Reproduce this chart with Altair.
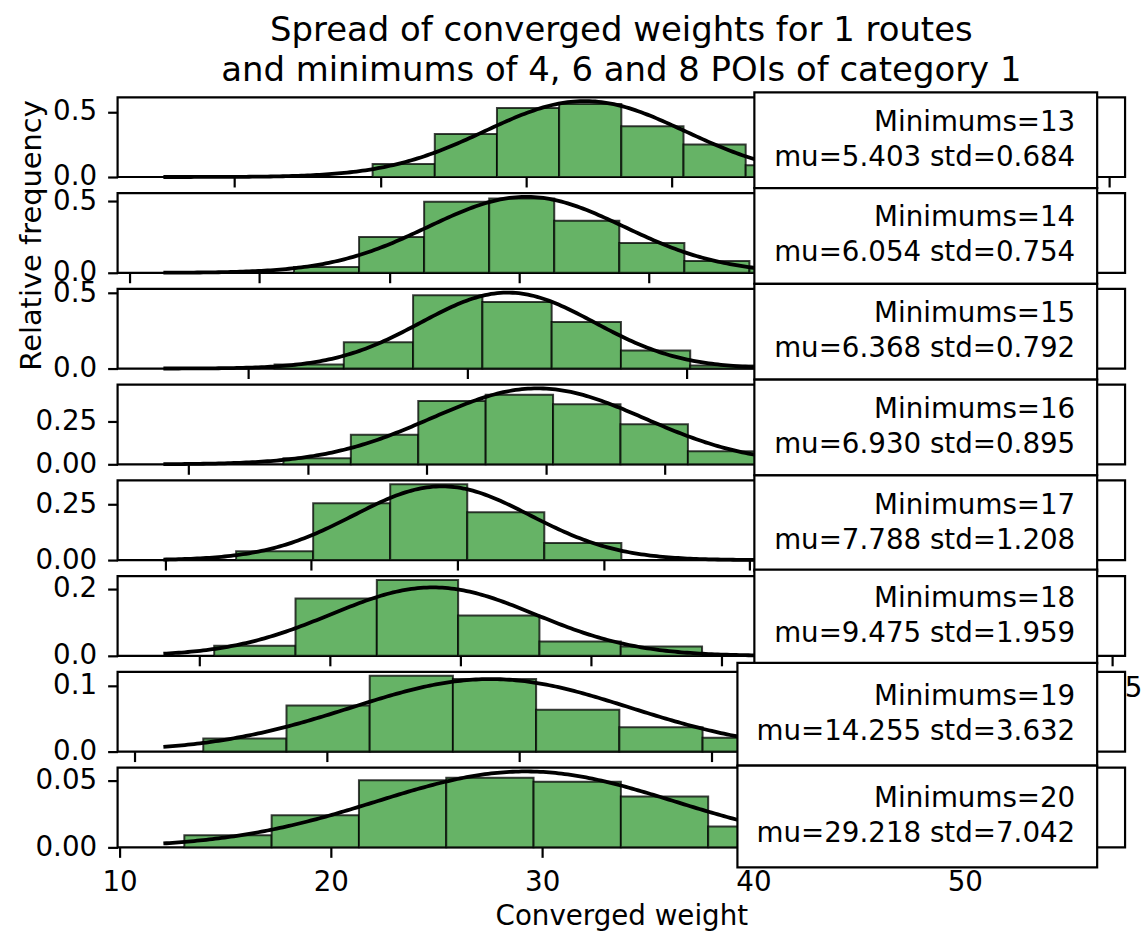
import altair as alt
import numpy as np
import pandas as pd

FONT = "DejaVu Sans"

# ---- values ----
minimums = [13, 14, 15, 16, 17, 18, 19, 20]
mus = [5.403, 6.054, 6.368, 6.930, 7.788, 9.475, 14.255, 29.218]
stds = [0.684, 0.754, 0.792, 0.895, 1.208, 1.959, 3.632, 7.042]

# histogram of each panel: first bin edge, bin width, relative frequency per bin
bin_start = [3.947, 4.266, 4.241, 4.795, 4.973, 5.277, 6.777, 13.066]
bin_width = [0.4265, 0.501, 0.632, 0.566, 1.054, 1.56, 2.166, 4.132]
rel_freq = [
    [0.10, 0.33, 0.53, 0.56, 0.39, 0.25, 0.09, 0.055, 0.025, 0.014],
    [0.041, 0.249, 0.495, 0.518, 0.363, 0.208, 0.082, 0.03, 0.01],
    [0.027, 0.175, 0.487, 0.442, 0.309, 0.12, 0.02],
    [0.035, 0.173, 0.372, 0.409, 0.353, 0.235, 0.077, 0.06, 0.035, 0.015],
    [0.04, 0.255, 0.34, 0.214, 0.076],
    [0.03, 0.171, 0.226, 0.12, 0.043, 0.028],
    [0.02, 0.07, 0.115, 0.11, 0.0635, 0.037, 0.021, 0.012, 0.006, 0.005],
    [0.009, 0.024, 0.05, 0.052, 0.049, 0.038, 0.0155, 0.005],
]
# range over which the fitted normal curve is drawn in each panel
curve_lo = [2.512, 3.260, 3.227, 3.787, 3.978, 4.302, 5.739, 12.075]
curve_hi = [8.794, 10.313, 11.582, 11.477, 16.507, 21.874, 29.578, 55.42]

x_ticks = [
    [3, 4, 5, 6, 7, 8, 9],
    [3, 4, 5, 6, 7, 8, 9, 10],
    [4, 6, 8, 10, 12],
    [4, 5, 6, 7, 8, 9, 10, 11],
    [4, 6, 8, 10, 12, 14, 16],
    [5, 7.5, 10, 12.5, 15, 17.5, 20, 22.5],
    [5, 10, 15, 20, 25, 30],
    [10, 20, 30, 40, 50],
]
y_ticks = [[0, 0.5], [0, 0.5], [0, 0.5], [0, 0.25], [0, 0.25], [0, 0.2], [0, 0.1], [0, 0.05]]
y_fmt = [".1f", ".1f", ".1f", ".2f", ".2f", ".1f", ".1f", ".2f"]

title_lines = ["Spread of converged weights for 1 routes",
               "and minimums of 4, 6 and 8 POIs of category 1"]
x_title = "Converged weight"
y_title = "Relative frequency"

# ---- layout / style ----
W, H = 1011, 80
FS = 27.8
box_left = [639, 639, 639, 639, 639, 639, 622, 622]
box_right = 983
box_top = [-5, -5, -5, -5, -5, -6.5, -9, -2]
box_bottom = [91, 91, 91, 91, 91, 87.5, 94, 100]
text_right = 961

charts = []
for i in range(8):
    lo, hi = curve_lo[i], curve_hi[i]
    pad = 0.05 * (hi - lo)
    xscale = alt.Scale(domain=[lo - pad, hi + pad], nice=False, zero=False)
    hs = rel_freq[i]
    peak = 1.0 / (stds[i] * np.sqrt(2 * np.pi))
    ymax = 1.05 * max(max(hs), peak)
    yscale = alt.Scale(domain=[0, ymax], nice=False, zero=True)
    last = i == 7

    xaxis = alt.Axis(values=x_ticks[i], labels=last, title=x_title if last else None,
                     format="d", labelFlush=False, domain=False, grid=False)
    if i == 1:
        yaxis = alt.Axis(values=y_ticks[i], format=y_fmt[i], title=y_title, grid=False,
                         domain=False, titleX=-86, titleY=42, titleAngle=270,
                         titleAlign="center", titleBaseline="middle", titleFontSize=29)
    else:
        yaxis = alt.Axis(values=y_ticks[i], format=y_fmt[i], title=None, grid=False, domain=False)

    x_enc = alt.X("x:Q", scale=xscale, axis=xaxis)
    y_enc = alt.Y("y:Q", scale=yscale, axis=yaxis)

    bars_df = pd.DataFrame({
        "x": [bin_start[i] + k * bin_width[i] for k in range(len(hs))],
        "x2": [bin_start[i] + (k + 1) * bin_width[i] for k in range(len(hs))],
        "y": hs,
        "b": [0.0] * len(hs),
    })
    xs = np.linspace(lo, hi, 300)
    curve_df = pd.DataFrame({"x": xs,
                             "y": peak * np.exp(-0.5 * ((xs - mus[i]) / stds[i]) ** 2)})

    bars = alt.Chart(bars_df).mark_rect(fill="#66b366", stroke="black", strokeOpacity=0.75,
                                        strokeWidth=2).encode(
        x=x_enc, x2="x2:Q", y=y_enc, y2="b:Q")
    curve = alt.Chart(curve_df).mark_line(color="black", strokeWidth=3.8).encode(
        x=x_enc, y=y_enc)

    box_df = pd.DataFrame({"l1": [f"Minimums={minimums[i]}"],
                           "l2": [f"mu={mus[i]:.3f} std={stds[i]:.3f}"]})
    cy = (box_top[i] + box_bottom[i]) / 2
    rect = alt.Chart(box_df).mark_rect(fill="white", stroke="black", strokeWidth=2.2).encode(
        x=alt.value(box_left[i]), x2=alt.value(box_right),
        y=alt.value(box_top[i]), y2=alt.value(box_bottom[i]))
    t1 = alt.Chart(box_df).mark_text(align="right", baseline="middle", font=FONT,
                                     fontSize=FS, color="black").encode(
        x=alt.value(text_right), y=alt.value(cy - 17.5), text="l1:N")
    t2 = alt.Chart(box_df).mark_text(align="right", baseline="middle", font=FONT,
                                     fontSize=FS, color="black").encode(
        x=alt.value(text_right), y=alt.value(cy + 17.5), text="l2:N")
    layers = [bars, curve, rect, t1, t2]
    if i == 5:
        frag = alt.Chart(pd.DataFrame({"t": ["5"]})).mark_text(
            align="center", baseline="middle", font=FONT, fontSize=FS, color="black").encode(
            x=alt.value(1019.5), y=alt.value(113), text="t:N")
        layers.append(frag)
    charts.append(alt.layer(*layers).properties(width=W, height=H))

chart = alt.vconcat(*charts, spacing=16.1, bounds="flush").properties(
    title=alt.TitleParams(text=title_lines, fontSize=34, font=FONT, fontWeight="normal",
                          color="black", anchor="middle", frame="group", lineHeight=40,
                          offset=2),
    padding={"left": 16, "top": 12, "right": 0, "bottom": 0},
).configure_view(stroke="black", strokeWidth=2.2).configure_axis(
    labelFont=FONT, labelFontSize=FS, labelColor="black", labelPadding=11,
    titleFont=FONT, titleFontSize=FS, titleFontWeight="normal", titleColor="black",
    titlePadding=7, tickColor="black", tickWidth=2.2, tickSize=10, domainColor="black",
)

chart.save("out.html", embed_options={"renderer": "svg", "actions": False})
